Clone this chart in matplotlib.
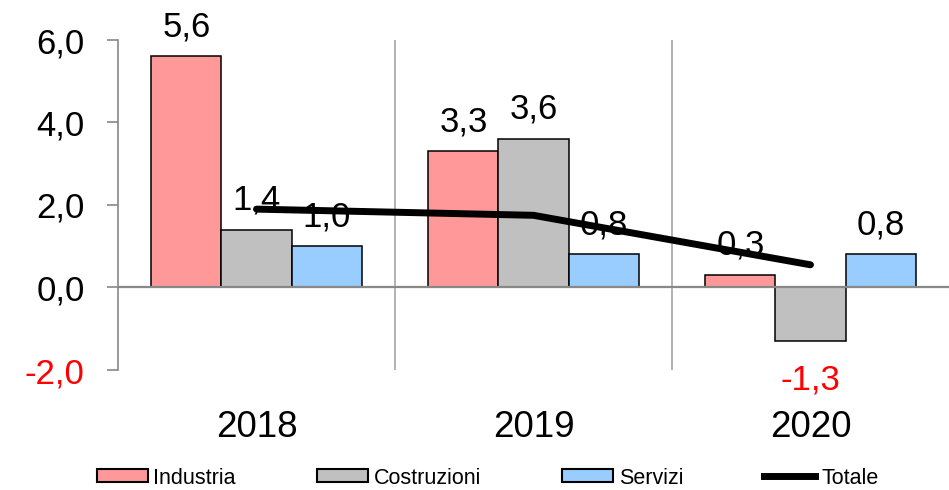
import matplotlib
matplotlib.use("Agg")
import matplotlib.pyplot as plt
import numpy as np
from matplotlib.patches import Patch
from matplotlib.lines import Line2D

plt.rcParams["font.family"] = ["Liberation Sans", "DejaVu Sans"]

# Data
years = ["2018", "2019", "2020"]
series_names = ["Industria", "Costruzioni", "Servizi"]
industria = [5.6, 3.3, 0.3]
costruzioni = [1.4, 3.6, -1.3]
servizi = [1.0, 0.8, 0.8]
totale = [1.9, 1.75, 0.55]
y_ticks = [-2.0, 0.0, 2.0, 4.0, 6.0]

colors = ["#FF9999", "#C0C0C0", "#99CCFF"]

fig = plt.figure(figsize=(9.49, 4.90), dpi=100)
ax = fig.add_axes([118 / 949, 1 - 370 / 490, (949 - 118) / 949, 330 / 490])

x = np.arange(len(years))
width = 0.253
offsets = [-width, 0.0, width]

def fmt(v):
    return f"{v:.1f}".replace(".", ",")

for vals, off, col in zip([industria, costruzioni, servizi], offsets, colors):
    ax.bar(x + off, vals, width, color=col, edgecolor="black", linewidth=1.1, zorder=3)
    for xi, v in zip(x, vals):
        if v >= 0:
            ax.annotate(fmt(v), (xi + off, v), xytext=(0, 14.5), textcoords="offset points",
                        ha="center", va="baseline", fontsize=25, color="black", zorder=5)
        else:
            ax.annotate(fmt(v), (xi + off, v), xytext=(0, -16), textcoords="offset points",
                        ha="center", va="top", fontsize=25, color="red", zorder=5)

ax.plot(x, totale, color="black", linewidth=5, solid_capstyle="round", zorder=6)

# Zero line and year separators
ax.axhline(0, color="#888888", linewidth=1.6, zorder=4)
for sep in [0.5, 1.5]:
    ax.axvline(sep, color="#A6A6A6", linewidth=1.2, zorder=1)

ax.set_xlim(-0.5, 2.5)
ax.set_ylim(-2, 6)

ax.set_yticks(y_ticks)
ax.set_yticklabels([fmt(t) for t in y_ticks])
for lbl, t in zip(ax.get_yticklabels(), y_ticks):
    if t < 0:
        lbl.set_color("red")
ax.tick_params(axis="y", direction="out", length=8, width=1.2, color="#888888",
               labelsize=25, pad=16)

ax.set_xticks(x)
ax.set_xticklabels(years)
ax.tick_params(axis="x", length=0, labelsize=26.5, pad=29)

for side in ["top", "right", "bottom"]:
    ax.spines[side].set_visible(False)
ax.spines["left"].set_color("#888888")
ax.spines["left"].set_linewidth(1.2)

handles = [Patch(facecolor=c, edgecolor="black", linewidth=1.5) for c in colors]
handles.append(Line2D([0], [0], color="black", linewidth=5))
labels = series_names + ["Totale"]
fig.legend(handles, labels, loc="center", bbox_to_anchor=(487.5 / 949, 1 - 478 / 490),
           ncol=4, frameon=False, fontsize=15.5, handlelength=2.36, handleheight=0.55,
           handletextpad=0.27, columnspacing=3.77, borderpad=0, borderaxespad=0)

fig.savefig("out.png", dpi=100)
